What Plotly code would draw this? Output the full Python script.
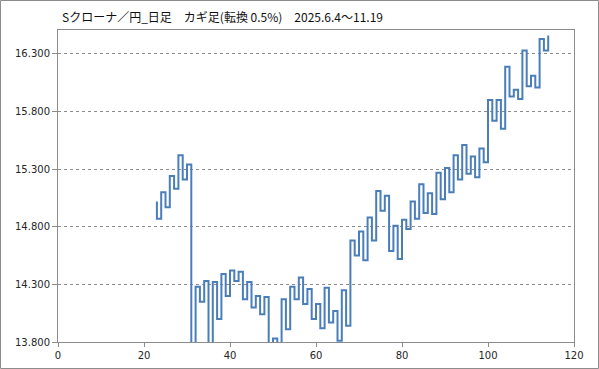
import plotly.graph_objects as go

# --- data ---
title_text = "Sクローナ／円_日足　カギ足(転換 0.5%)　2025.6.4～11.19"
first_x = 23
start_value = 15.02
turn_values = [
    14.87, 15.10, 14.97, 15.24, 15.13, 15.42, 15.21, 15.34,   # 23-30
    13.70, 14.28, 14.15, 14.33, 13.70, 14.32, 14.00, 14.39,   # 31-38
    14.20, 14.42, 14.33, 14.41, 14.17, 14.32, 14.10, 14.20,   # 39-46
    14.04, 14.19, 13.70, 13.83, 13.70, 14.17, 13.91, 14.28,   # 47-54
    14.17, 14.36, 14.13, 14.26, 14.00, 14.13, 13.92, 14.27,   # 55-62
    13.97, 14.07, 13.81, 14.25, 13.94, 14.68, 14.55, 14.76,   # 63-70
    14.51, 14.88, 14.68, 15.11, 14.94, 15.07, 14.59, 14.81,   # 71-78
    14.52, 14.86, 14.78, 15.02, 14.87, 15.17, 14.92, 15.09,   # 79-86
    14.91, 15.27, 15.04, 15.31, 15.10, 15.42, 15.21, 15.51,   # 87-94
    15.26, 15.41, 15.23, 15.48, 15.36, 15.90, 15.72, 15.90,   # 95-102
    15.65, 16.19, 15.93, 15.99, 15.91, 16.33, 16.02, 16.11,   # 103-110
    16.01, 16.43, 16.33, 16.46,                               # 111-114
]
y_ticks = [13.8, 14.3, 14.8, 15.3, 15.8, 16.3]
x_ticks = [0, 20, 40, 60, 80, 100, 120]

# path: start value, then each turn value at successive x positions (hv steps)
xs = [first_x] + [first_x + i for i in range(len(turn_values))]
ys = [start_value] + turn_values

W, H = 599, 369
ML, MR, MT, MB = 58, 25, 30, 27
pw, ph = W - ML - MR, H - MT - MB

axis_col = "#8c8c8c"
txt_col = "#262626"

fig = go.Figure()
fig.add_trace(go.Scatter(
    x=xs, y=ys, mode="lines", line=dict(shape="hv", color="#4a7ebb", width=2),
    hoverinfo="skip", showlegend=False,
))

fig.update_layout(
    width=W, height=H, autosize=False,
    margin=dict(l=ML, r=MR, t=MT, b=MB, pad=0, autoexpand=False),
    paper_bgcolor="white", plot_bgcolor="white",
    font=dict(family="DejaVu Sans", size=10, color=txt_col),
    title=dict(text=title_text, x=62 / W, xanchor="left", xref="container",
               y=1 - 18 / H, yanchor="middle", yref="container",
               font=dict(family="Noto Sans CJK JP", size=12, color="#111111")),
    xaxis=dict(range=[0, 120], tickvals=x_ticks, showgrid=False, zeroline=False,
               showline=True, linecolor=axis_col, linewidth=1, mirror=True,
               ticks="outside", ticklen=4, tickcolor=axis_col, tickwidth=1,
               automargin=False,
               tickfont=dict(family="DejaVu Sans", size=10, color=txt_col)),
    yaxis=dict(range=[13.8, 16.508], tickvals=y_ticks, tickformat=".3f",
               showgrid=True, gridcolor="#8c8c8c", griddash="3px,3px", gridwidth=1,
               zeroline=False, showline=True, linecolor=axis_col, linewidth=1,
               mirror=True, ticks="outside", ticklen=5, tickcolor=axis_col,
               tickwidth=1, automargin=False,
               tickfont=dict(family="DejaVu Sans", size=10, color=txt_col)),
    shapes=[dict(type="rect", xref="paper", yref="paper",
                 x0=(0.5 - ML) / pw, x1=(W - 0.5 - ML) / pw,
                 y0=(ph + MT - (H - 0.5)) / ph, y1=(ph + MT - 0.5) / ph,
                 line=dict(color="#8c8c8c", width=1), layer="below")],
)

fig.write_html("out.html",
               config={"displayModeBar": False, "responsive": False},
               post_script="document.body.style.margin='0';document.body.style.overflow='hidden';")
